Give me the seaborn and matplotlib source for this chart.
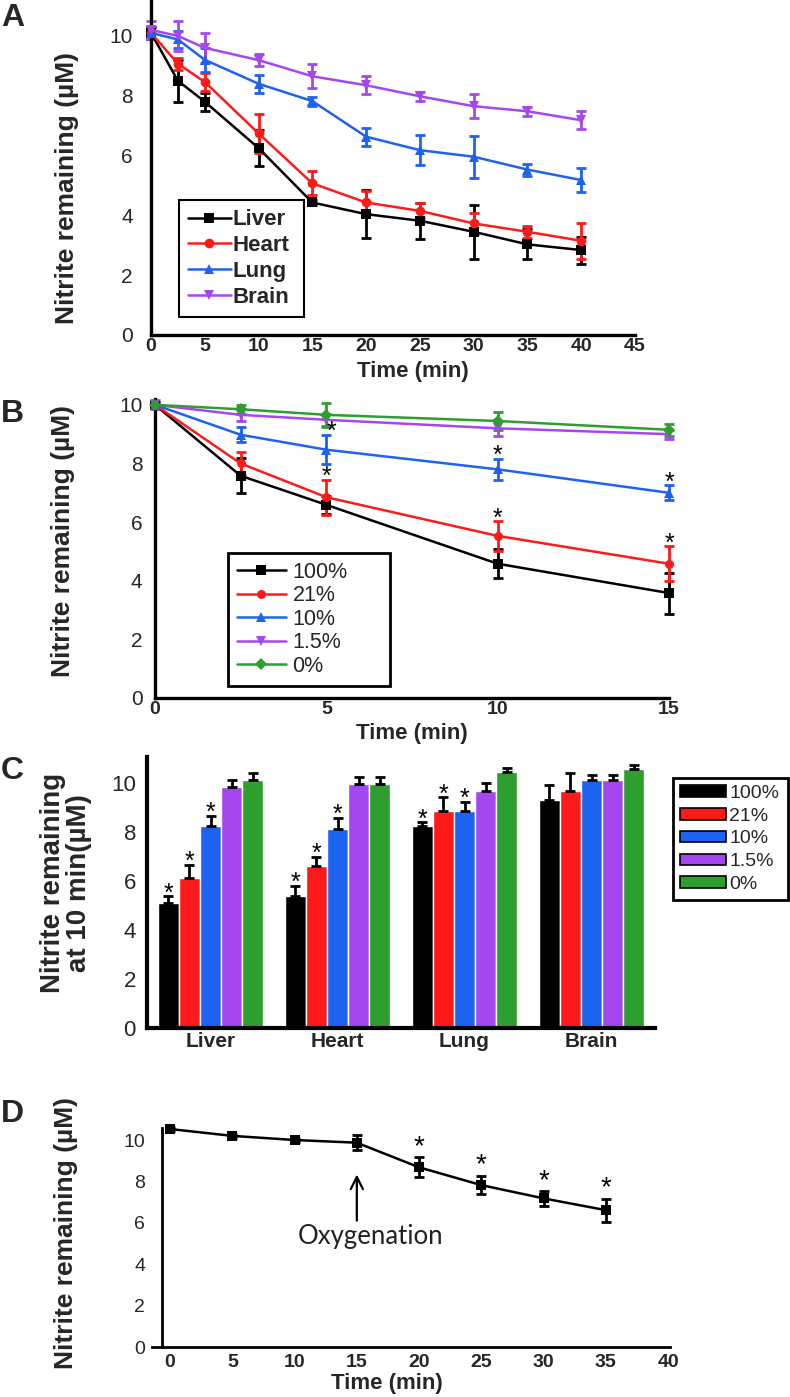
import numpy as np
import pandas as pd
import matplotlib
matplotlib.use("Agg")
import matplotlib.pyplot as plt
from matplotlib import font_manager
from matplotlib.lines import Line2D
from matplotlib.patches import Patch
import seaborn as sns

# ---------------- data ----------------
# Panel A: nitrite decay in tissue homogenates
a_time = [0, 2.5, 5, 10, 15, 20, 25, 30, 35, 40]
a_tissues = ["Liver", "Heart", "Lung", "Brain"]
a_liver = [10.1, 8.5, 7.8, 6.25, 4.43, 4.04, 3.82, 3.45, 3.03, 2.84]
a_liver_err = [0.2, 0.7, 0.3, 0.6, 0.1, 0.8, 0.6, 0.9, 0.5, 0.45]
a_heart = [10.1, 9.07, 8.46, 6.74, 5.07, 4.43, 4.15, 3.73, 3.45, 3.15]
a_heart_err = [0.2, 0.2, 0.3, 0.65, 0.4, 0.4, 0.25, 0.35, 0.2, 0.6]
a_lung = [10.1, 9.88, 9.2, 8.4, 7.82, 6.63, 6.18, 5.96, 5.53, 5.18]
a_lung_err = [0.2, 0.3, 0.4, 0.3, 0.15, 0.3, 0.5, 0.7, 0.2, 0.4]
a_brain = [10.2, 10.0, 9.6, 9.19, 8.65, 8.35, 7.98, 7.65, 7.48, 7.18]
a_brain_err = [0.3, 0.5, 0.5, 0.2, 0.4, 0.3, 0.15, 0.4, 0.15, 0.3]

# Panel B: liver, different oxygen levels
b_time = [0, 2.5, 5, 10, 15]
b_levels = ["100%", "21%", "10%", "1.5%", "0%"]
b_100 = [10.0, 7.58, 6.59, 4.58, 3.58]
b_100_err = [0.1, 0.6, 0.3, 0.5, 0.7]
b_21 = [10.0, 8.0, 6.85, 5.53, 4.58]
b_21_err = [0.1, 0.4, 0.6, 0.5, 0.6]
b_10 = [10.0, 8.98, 8.47, 7.8, 7.0]
b_10_err = [0.1, 0.25, 0.5, 0.35, 0.25]
b_1_5 = [10.0, 9.66, 9.49, 9.2, 9.0]
b_1_5_err = [0.15, 0.2, 0.2, 0.25, 0.15]
b_0 = [10.0, 9.85, 9.66, 9.45, 9.15]
b_0_err = [0.1, 0.15, 0.4, 0.3, 0.2]
b_star_times = [5, 10, 15]
b_star_levels = ["10%", "21%"]

# Panel C: nitrite remaining at 10 min
c_tissues = ["Liver", "Heart", "Lung", "Brain"]
c_levels = ["100%", "21%", "10%", "1.5%", "0%"]
c_100 = [5.1, 5.4, 8.23, 9.32]
c_100_err = [0.27, 0.4, 0.16, 0.6]
c_21 = [6.12, 6.63, 8.84, 9.66]
c_21_err = [0.55, 0.35, 0.57, 0.75]
c_10 = [8.26, 8.12, 8.84, 10.14]
c_10_err = [0.4, 0.45, 0.4, 0.17]
c_1_5 = [9.84, 9.97, 9.66, 10.14]
c_1_5_err = [0.27, 0.27, 0.34, 0.17]
c_0 = [10.14, 9.97, 10.45, 10.57]
c_0_err = [0.27, 0.27, 0.16, 0.15]
c_star_tissues = ["Liver", "Heart", "Lung"]
c_star_levels = ["100%", "21%", "10%"]

# Panel D: oxygenation after 15 min
d_time = [0, 5, 10, 15, 20, 25, 30, 35]
d_value = [10.53, 10.2, 10.0, 9.87, 8.68, 7.82, 7.18, 6.61]
d_err = [0.1, 0.1, 0.1, 0.35, 0.48, 0.45, 0.35, 0.56]
d_star_times = [20, 25, 30, 35]
d_arrow_time = 15
d_arrow_from, d_arrow_to = 5.97, 8.47

# ---------------- style ----------------
sns.set_theme(style="white")
plt.rcParams["font.family"] = ["Liberation Sans", "DejaVu Sans"]
names = {f.name for f in font_manager.fontManager.ttflist}
NARROW = ["Liberation Sans Narrow", "Liberation Sans", "DejaVu Sans"] if "Liberation Sans Narrow" in names else ["Liberation Sans", "DejaVu Sans"]
CALIB = ["Lato", "DejaVu Sans"] if "Lato" in names else ["DejaVu Sans"]

BLACK, RED, BLUE, PURPLE, GREEN = "#000000", "#ff1a1a", "#1e62f0", "#a447ef", "#2e9e2e"

W, H = 790, 1397
fig = plt.figure(figsize=(W / 100, H / 100), dpi=100)


def rect(l, r, t, b):
    return [l / W, 1 - b / H, (r - l) / W, (b - t) / H]


def fpt(x, y):
    return (x / W, 1 - y / H)


def fbox(l, r, t, b):
    return (l / W, 1 - b / H, (r - l) / W, (b - t) / H)


def base_style(ax, lw=2.4):
    for s in ["top", "right"]:
        ax.spines[s].set_visible(False)
    for s in ["left", "bottom"]:
        ax.spines[s].set_linewidth(lw)
        ax.spines[s].set_color("black")
    ax.grid(False)
    ax.set_facecolor("none")


def ticks(ax, xt, yt, ypad, xpad=2, ysize=15, xsize=14, xfamily=None):
    ax.set_xticks(xt)
    ax.set_yticks(yt)
    ax.tick_params(axis="both", length=0)
    ax.tick_params(axis="y", pad=ypad, labelsize=ysize)
    ax.tick_params(axis="x", pad=xpad, labelsize=xsize)
    for lab in ax.get_xticklabels():
        lab.set_fontweight("bold")
        if xfamily:
            lab.set_family(xfamily)


def star(ax, x, ycap, center_px, size, dx_px=0):
    # place '*' so that its glyph center sits center_px pixels above ycap
    off_px = center_px - 0.57 * size * 100 / 72
    ax.annotate("*", xy=(x, ycap), xytext=(dx_px * 0.72, off_px * 72 / 100), textcoords="offset points",
                ha="center", va="baseline", fontsize=size, color="black", annotation_clip=False)


def ylabel(ax, text, x, y, size=19, **kw):
    ax.set_ylabel(text, fontsize=size, fontweight="bold", **kw)
    ax.yaxis.label.set_va("center")
    ax.yaxis.label.set_ha("center")
    ax.yaxis.set_label_coords(*fpt(x, y), transform=fig.transFigure)


def xlabel(ax, text, x, y, size=16, **kw):
    ax.set_xlabel(text, fontsize=size, fontweight="bold", **kw)
    ax.xaxis.label.set_va("center")
    ax.xaxis.set_label_coords(*fpt(x, y), transform=fig.transFigure)


def unclip(ax):
    for art in ax.get_children():
        if isinstance(art, (Line2D, matplotlib.collections.LineCollection)):
            art.set_clip_on(False)


# ---------------- Panel A ----------------
axA = fig.add_axes(rect(151, 635, 0, 335))
base_style(axA)
palA = dict(zip(a_tissues, [BLACK, RED, BLUE, PURPLE]))
markA = dict(zip(a_tissues, ["s", "o", "^", "v"]))
dfA = pd.DataFrame({
    "time": a_time * 4,
    "value": a_liver + a_heart + a_lung + a_brain,
    "err": a_liver_err + a_heart_err + a_lung_err + a_brain_err,
    "tissue": np.repeat(a_tissues, len(a_time)),
})
for t in a_tissues:
    sub = dfA[dfA.tissue == t]
    axA.errorbar(sub.time, sub.value, yerr=sub.err, fmt="none", ecolor=palA[t],
                 elinewidth=2, capsize=3.5, capthick=2, zorder=2)
sns.lineplot(data=dfA, x="time", y="value", hue="tissue", style="tissue", hue_order=a_tissues,
             style_order=a_tissues, markers=markA, dashes=False, palette=palA, linewidth=1.8,
             markersize=7, markeredgewidth=0, legend=False, errorbar=None, ax=axA, zorder=3)
axA.set_xlim(0, 45)
axA.set_ylim(0, 11.2)
ticks(axA, range(0, 46, 5), range(0, 11, 2), ypad=13)
unclip(axA)
ylabel(axA, "Nitrite remaining (µM)", 67, 188)
xlabel(axA, "Time (min)", 413, 372)
hA = [Line2D([], [], color=palA[t], marker=markA[t], lw=1.8, ms=7, mew=0) for t in a_tissues]
legA = axA.legend(hA, a_tissues, loc="upper left", mode="expand", bbox_to_anchor=fbox(179, 304, 200, 316),
                  bbox_transform=fig.transFigure, frameon=True, fancybox=False, edgecolor="black",
                  framealpha=1, borderaxespad=0, prop=dict(weight="bold", size=16),
                  handlelength=1.9, handletextpad=0.1, labelspacing=0.22, borderpad=0.42)
legA.get_frame().set_linewidth(1.5)

# ---------------- Panel B ----------------
axB = fig.add_axes(rect(155, 669, 399, 698))
base_style(axB)
palB = dict(zip(b_levels, [BLACK, RED, BLUE, PURPLE, GREEN]))
markB = dict(zip(b_levels, ["s", "o", "^", "v", "D"]))
b_vals = [b_100, b_21, b_10, b_1_5, b_0]
b_errs = [b_100_err, b_21_err, b_10_err, b_1_5_err, b_0_err]
dfB = pd.DataFrame({
    "time": b_time * 5,
    "value": sum(b_vals, []),
    "err": sum(b_errs, []),
    "level": np.repeat(b_levels, len(b_time)),
})
for lv in b_levels:
    sub = dfB[dfB.level == lv]
    axB.errorbar(sub.time, sub.value, yerr=sub.err, fmt="none", ecolor=palB[lv],
                 elinewidth=2, capsize=3.5, capthick=2, zorder=2)
sns.lineplot(data=dfB, x="time", y="value", hue="level", style="level", hue_order=b_levels,
             style_order=b_levels, markers=markB, dashes=False, palette=palB, linewidth=1.8,
             markersize=6.5, markeredgewidth=0, legend=False, errorbar=None, ax=axB, zorder=3)
axB.set_xlim(0, 15)
axB.set_ylim(0, 10.2)
ticks(axB, [0, 5, 10, 15], range(0, 11, 2), ypad=9)
unclip(axB)
for lv in b_star_levels:
    sub = dfB[dfB.level == lv].set_index("time")
    for tt in b_star_times:
        dx = 5 if (lv == "10%" and tt == 5) else 0
        star(axB, tt, sub.loc[tt, "value"] + sub.loc[tt, "err"], 10, 18, dx_px=dx)
ylabel(axB, "Nitrite remaining (µM)", 63, 541)
xlabel(axB, "Time (min)", 412, 734)
hB = [Line2D([], [], color=palB[lv], marker=markB[lv], lw=1.8, ms=6.5, mew=0) for lv in b_levels]
legB = axB.legend(hB, b_levels, loc="upper left", mode="expand", bbox_to_anchor=fbox(228, 390, 553, 685),
                  bbox_transform=fig.transFigure, frameon=True, fancybox=False, edgecolor="black",
                  framealpha=1, borderaxespad=0, prop=dict(size=15.5),
                  handlelength=2.3, handletextpad=0.3, labelspacing=0.12, borderpad=0.4)
legB.get_frame().set_linewidth(2)

# ---------------- Panel C ----------------
axC = fig.add_axes(rect(147, 655, 757, 1028))
base_style(axC, lw=3)
palC = dict(zip(c_levels, [BLACK, RED, BLUE, PURPLE, GREEN]))
c_vals = [c_100, c_21, c_10, c_1_5, c_0]
c_errs = [c_100_err, c_21_err, c_10_err, c_1_5_err, c_0_err]
dfC = pd.DataFrame({
    "tissue": c_tissues * 5,
    "level": np.repeat(c_levels, len(c_tissues)),
    "value": sum(c_vals, []),
    "err": sum(c_errs, []),
})
sns.barplot(data=dfC, x="tissue", y="value", hue="level", order=c_tissues, hue_order=c_levels,
            palette=palC, width=0.83, saturation=1, errorbar=None, legend=False, ax=axC, zorder=2)
for lv, cont in zip(c_levels, axC.containers):
    sub = dfC[dfC.level == lv].set_index("tissue")
    for tis, bar in zip(c_tissues, cont):
        xc = bar.get_x() + bar.get_width() / 2
        h = bar.get_height()
        e = sub.loc[tis, "err"]
        axC.errorbar([xc], [h], yerr=[[0], [e]], fmt="none", ecolor="black",
                     elinewidth=2, capsize=3.5, capthick=2, zorder=3)
        if lv in c_star_levels and tis in c_star_tissues:
            star(axC, xc, h + e, 10, 18)
axC.set_xlim(-0.5, 3.5)
axC.set_ylim(0, 11.06)
axC.set_xlabel("")
ticks(axC, range(4), range(0, 11, 2), ypad=8, xpad=3, ysize=16, xsize=15)
axC.set_xticklabels(c_tissues, fontweight="bold", fontsize=15)
ylabel(axC, "Nitrite remaining\nat 10 min(µM)", 66, 883, size=20, linespacing=1.05)
hC = [Patch(facecolor=palC[lv], edgecolor="black", linewidth=1.2) for lv in c_levels]
legC = axC.legend(hC, c_levels, loc="upper left", mode="expand", bbox_to_anchor=fbox(673, 788, 778, 915),
                  bbox_transform=fig.transFigure, frameon=True, fancybox=False, edgecolor="black",
                  framealpha=1, borderaxespad=0, prop=dict(size=14),
                  handlelength=2.4, handleheight=0.55, handletextpad=0.15, labelspacing=0.3,
                  borderpad=0.35)
legC.get_frame().set_linewidth(2)

# ---------------- Panel D ----------------
axD = fig.add_axes(rect(152, 670, 1128, 1347))
base_style(axD, lw=2)
dfD = pd.DataFrame({"time": d_time, "value": d_value, "err": d_err})
axD.errorbar(dfD.time, dfD.value, yerr=dfD.err, fmt="none", ecolor=BLACK,
             elinewidth=2, capsize=3.5, capthick=2, zorder=2)
sns.lineplot(data=dfD, x="time", y="value", color=BLACK, marker="s", linewidth=1.8,
             markersize=7, markeredgewidth=0, errorbar=None, ax=axD, zorder=3)
axD.set_xlim(-1.45, 40.15)
axD.set_ylim(0, 10.58)
axD.spines["left"].set_position(("data", -0.65))
ticks(axD, range(0, 41, 5), range(0, 11, 2), ypad=12, xpad=5, ysize=14, xsize=14, xfamily=NARROW)
unclip(axD)
sD = dfD.set_index("time")
for tt in d_star_times:
    star(axD, tt, sD.loc[tt, "value"] + sD.loc[tt, "err"], 19, 20)
axD.annotate("", xy=(d_arrow_time, d_arrow_to), xytext=(d_arrow_time, d_arrow_from),
             arrowprops=dict(arrowstyle="->", lw=1.6, color="black", mutation_scale=22))
axD.text(d_arrow_time + 1.1, d_arrow_from - 0.65, "Oxygenation", ha="center", va="center",
         fontsize=18.5, family=CALIB, color="#222222")
ylabel(axD, "Nitrite remaining (µM)", 66, 1233)
xlabel(axD, "Time (min)", 387, 1384, size=16, family=NARROW)

# ---------------- panel letters ----------------
for letter, y in zip("ABCD", [18, 414, 771, 1114]):
    fig.text(*fpt(1, y), letter, fontsize=23, fontweight="bold", ha="left", va="center")

fig.savefig("out.png", dpi=100, facecolor="white")
